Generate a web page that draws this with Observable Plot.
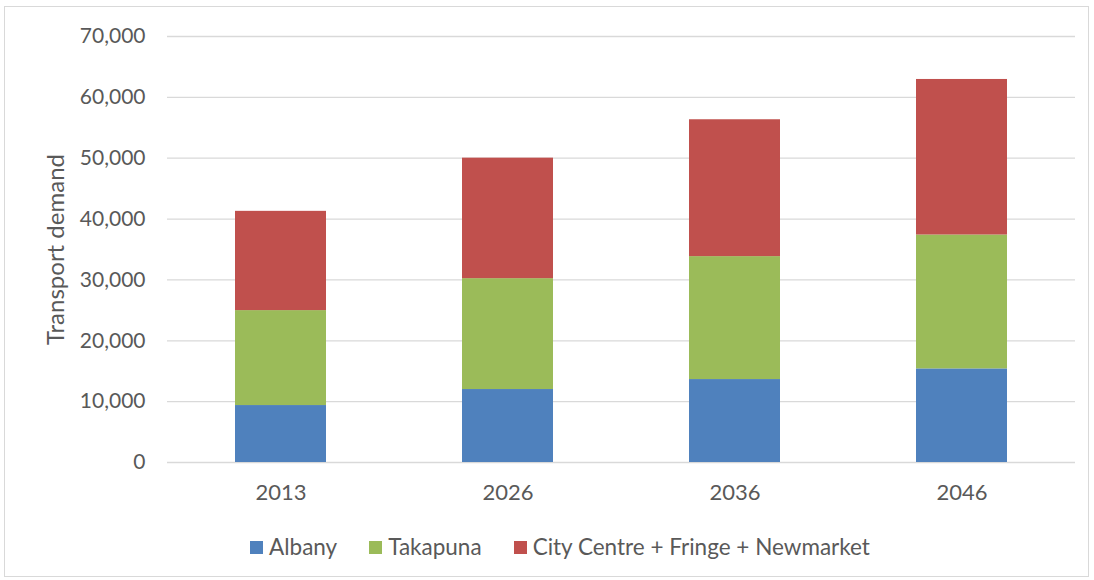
<!DOCTYPE html>
<html>
<head>
<meta charset="utf-8">
<script src="https://cdn.jsdelivr.net/npm/d3@7"></script>
<script src="https://cdn.jsdelivr.net/npm/@observablehq/plot@0.6"></script>
<style>
  html, body { margin: 0; padding: 0; background: #fff; }
  body { width: 1094px; height: 580px; position: relative; overflow: hidden; font-family: Lato, "Open Sans", sans-serif; }
  #frame { position: absolute; left: 4px; top: 6px; width: 1085px; height: 571px; border: 1px solid #d9d9d9; box-sizing: border-box; }
  #chart { position: absolute; left: 0; top: 0; }
  #legend { position: absolute; left: 13px; top: 532px; width: 1094px; display: flex; justify-content: center; font-size: 22.5px; color: #595959; line-height: 30px; }
  .item { display: flex; align-items: center; margin: 0 16px; }
  .sw { width: 13px; height: 13px; margin-right: 6px; }
</style>
</head>
<body>
<div id="frame"></div>
<div id="chart"></div>
<div id="legend"></div>
<script>
const years = ["2013", "2026", "2036", "2046"];
const seriesNames = ["Albany", "Takapuna", "City Centre + Fringe + Newmarket"];
const albany = [9360, 11990, 13630, 15380];
const takapuna = [15600, 18220, 20200, 22000];
const cityCentre = [16310, 19800, 22490, 25560];
const colors = ["#4f81bd", "#9bbb59", "#c0504d"];
const yTicks = [0, 10000, 20000, 30000, 40000, 50000, 60000, 70000];

const seriesValues = [albany, takapuna, cityCentre];
const rows = [];
years.forEach((yr, i) => {
  seriesNames.forEach((s, j) => rows.push({year: yr, series: s, value: seriesValues[j][i]}));
});

const fmt = d3.format(",");
const chart = Plot.plot({
  width: 1094,
  height: 520,
  marginLeft: 167,
  marginRight: 19,
  marginTop: 36,
  marginBottom: 58,
  style: {fontFamily: "Lato, 'Open Sans', sans-serif", fontSize: "21px", color: "#595959", background: "transparent"},
  x: {domain: years, paddingInner: 0.6, paddingOuter: 0.3, label: null},
  y: {domain: [0, 70000], label: null},
  color: {domain: seriesNames, range: colors},
  marks: [
    Plot.gridY(yTicks, {stroke: "#d9d9d9", strokeOpacity: 1, strokeWidth: 1.3}),
    Plot.barY(rows, {x: "year", y: "value", fill: "series", order: seriesNames}),
    Plot.axisY(yTicks, {tickSize: 0, tickPadding: 22, tickFormat: fmt, fill: "#595959", fontSize: 21, label: null}),
    Plot.axisX({tickSize: 0, tickPadding: 22, fill: "#595959", fontSize: 22, label: null}),
    Plot.text(["Transport demand"], {frameAnchor: "left", textAnchor: "middle", dx: -111, rotate: -90, fill: "#595959", fontSize: 24})
  ]
});
document.getElementById("chart").appendChild(chart);

const legend = document.getElementById("legend");
seriesNames.forEach((s, i) => {
  const it = document.createElement("div");
  it.className = "item";
  const sw = document.createElement("span");
  sw.className = "sw";
  sw.style.background = colors[i];
  const t = document.createElement("span");
  t.textContent = s;
  it.appendChild(sw); it.appendChild(t);
  legend.appendChild(it);
});
</script>
</body>
</html>
